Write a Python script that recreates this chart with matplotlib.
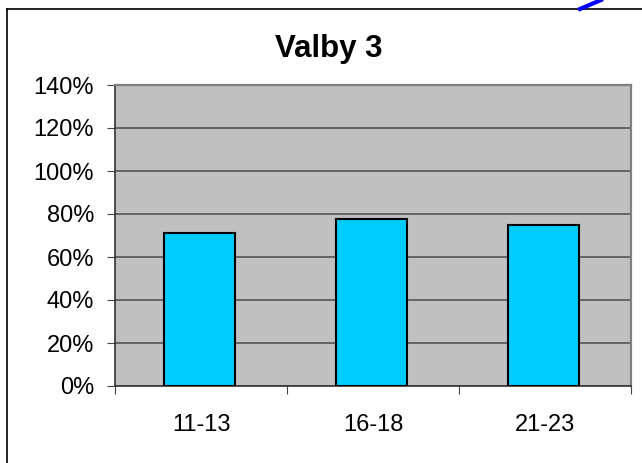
import numpy as np
import matplotlib.pyplot as plt
from matplotlib.lines import Line2D

plt.rcParams['font.family'] = ['Liberation Sans', 'DejaVu Sans']

categories = ['11-13', '16-18', '21-23']
values = [71.3, 77.8, 75.0]
yticks = [0, 20, 40, 60, 80, 100, 120, 140]

fig = plt.figure(figsize=(6.42, 4.63), dpi=100)
ax = fig.add_axes([115 / 642, 77 / 463, 516 / 642, 301 / 463])
ax.set_facecolor('#c0c0c0')

x = np.arange(len(categories))
ax.bar(x - 0.01, values, width=0.41, color='#00ccff', edgecolor='black', linewidth=1.5, zorder=3)

ax.set_xlim(-0.5, len(categories) - 0.5)
ax.set_ylim(0, 140)
ax.set_yticks(yticks)
ax.set_yticklabels([f'{v}%' for v in yticks], fontsize=17)
ax.yaxis.grid(True, color='#555555', linewidth=1.2, zorder=1)

ax.set_xticks(np.arange(len(categories) + 1) - 0.5)
ax.set_xticklabels([])
ax.set_xticks(x, minor=True)
ax.set_xticklabels(categories, minor=True, fontsize=17)
ax.tick_params(axis='x', which='minor', length=0, pad=20)
ax.tick_params(axis='x', which='major', length=6, color='#444444', direction='out')
ax.tick_params(axis='y', length=6, color='#444444', direction='out', pad=9)

for s in ['top', 'right']:
    ax.spines[s].set_color('#808080')
    ax.spines[s].set_linewidth(1.6)
ax.spines['left'].set_color('#333333')
ax.spines['bottom'].set_color('#333333')
ax.spines['left'].set_linewidth(1.2)
ax.spines['bottom'].set_linewidth(1.2)

fig.text(328.5 / 642, 1 - 57 / 463, 'Valby 3', fontsize=22.5, fontweight='bold',
         ha='center', va='baseline')

# chart border
fig.add_artist(Line2D([6.5 / 642, 6.5 / 642], [0, 1 - 9 / 463], color='black', linewidth=1.2))
fig.add_artist(Line2D([6.5 / 642, 1], [1 - 9 / 463, 1 - 9 / 463], color='black', linewidth=1.2))
# stray blue stroke at top right
fig.add_artist(Line2D([580 / 642, 601 / 642], [1 - 9 / 463, 1], color='blue', linewidth=3))

fig.savefig('out.png', dpi=100)
